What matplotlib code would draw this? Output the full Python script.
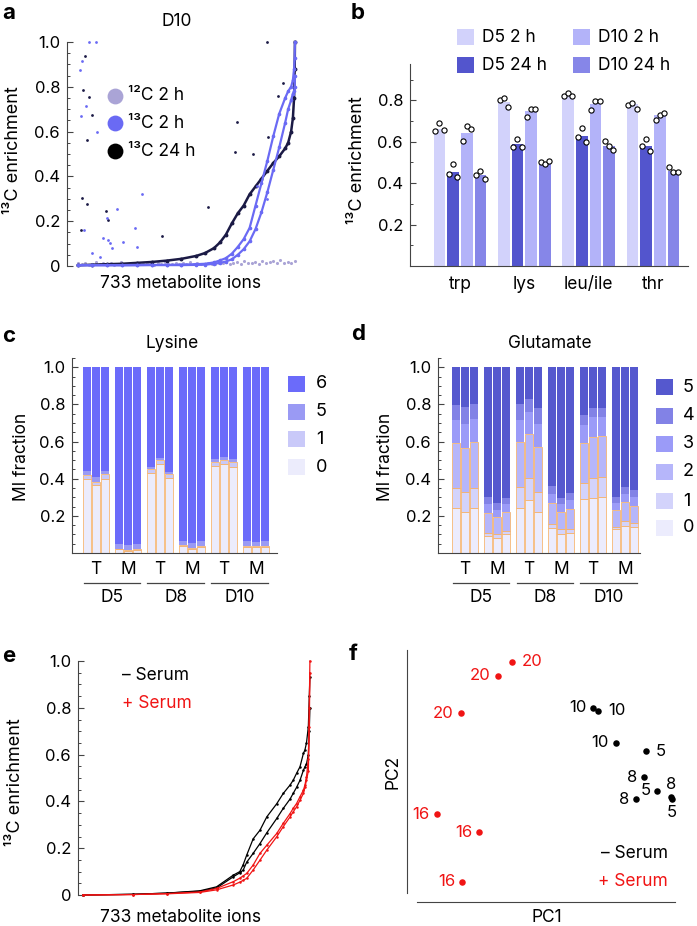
import numpy as np
import matplotlib
matplotlib.use('Agg')
import matplotlib.pyplot as plt
from matplotlib.patches import Rectangle

plt.rcParams['font.family'] = ['Inter', 'DejaVu Sans']
plt.rcParams['font.size'] = 12

# ---------------- data ----------------
# panel a: 13C enrichment of 733 metabolite ions (D10)
a_rank = [1, 50, 100, 150, 200, 250, 300, 350, 400, 430, 460, 480, 500, 520, 540,
          560, 580, 600, 620, 640, 660, 680, 700, 710, 720, 726, 730, 732, 733]
a_13c_24h = [0.003, 0.006, 0.008, 0.010, 0.014, 0.018, 0.024, 0.032, 0.045, 0.058, 0.080,
             0.105, 0.140, 0.190, 0.235, 0.270, 0.320, 0.355, 0.390, 0.425, 0.460, 0.490,
             0.525, 0.550, 0.600, 0.660, 0.750, 0.880, 1.000]
a_13c_2h_r1 = [0.004, 0.004, 0.004, 0.004, 0.005, 0.005, 0.005, 0.006, 0.008, 0.010, 0.016,
               0.025, 0.035, 0.055, 0.085, 0.120, 0.170, 0.270, 0.370, 0.470, 0.580, 0.680,
               0.750, 0.780, 0.800, 0.830, 0.880, 0.930, 1.000]
a_13c_2h_r2 = [0.003, 0.003, 0.003, 0.003, 0.003, 0.004, 0.004, 0.004, 0.005, 0.006, 0.010,
               0.014, 0.020, 0.030, 0.050, 0.075, 0.110, 0.165, 0.240, 0.330, 0.430, 0.530,
               0.640, 0.700, 0.740, 0.770, 0.780, 0.800, 0.850]
a_12c_2h = [0.012, 0.008, 0.015, 0.006, 0.010, 0.018, 0.007, 0.012, 0.009, 0.014, 0.006,
            0.011, 0.016, 0.008, 0.010, 0.013, 0.007, 0.012, 0.009, 0.015, 0.010, 0.006,
            0.013, 0.009, 0.017, 0.008, 0.011, 0.014, 0.007, 0.012, 0.010, 0.016, 0.009,
            0.013, 0.008, 0.011, 0.015, 0.010, 0.007, 0.014, 0.012, 0.018, 0.009, 0.013,
            0.016, 0.010, 0.022, 0.012, 0.015, 0.019, 0.011, 0.024, 0.014, 0.017, 0.021,
            0.012, 0.026, 0.015, 0.019, 0.013, 0.023]
a_out2h_rank = [8, 14, 39, 61, 28, 10, 64, 216, 132, 98, 193, 21, 86, 101, 109, 154, 199,
                115, 49, 75, 638, 604]
a_out2h_val = [0.876, 0.914, 1.0, 1.0, 0.715, 0.67, 0.60, 0.32, 0.253, 0.213, 0.171, 0.161,
               0.124, 0.116, 0.101, 0.109, 0.086, 0.079, 0.057, 0.042, 0.30, 0.355]
a_out24h_rank = [25, 17, 38, 47, 32, 14, 33, 96, 103, 10, 283, 441, 531, 536, 592, 638,
                 677, 692, 643]
a_out24h_val = [0.939, 0.784, 0.754, 0.675, 0.563, 0.303, 0.277, 0.247, 0.206, 0.161, 0.134,
                0.265, 0.511, 0.645, 0.50, 1.0, 0.757, 0.817, 0.578]

# panel b: 13C enrichment of amino acids
b_amino = ['trp', 'lys', 'leu/ile', 'thr']
b_cond = ['D5 2 h', 'D5 24 h', 'D10 2 h', 'D10 24 h']
b_d5_2h = [0.663, 0.792, 0.828, 0.784]
b_d5_24h = [0.454, 0.588, 0.628, 0.580]
b_d10_2h = [0.644, 0.747, 0.781, 0.728]
b_d10_24h = [0.438, 0.500, 0.580, 0.457]
b_d5_2h_pts = [[0.65, 0.69, 0.655], [0.803, 0.813, 0.768], [0.821, 0.833, 0.82], [0.779, 0.789, 0.76]]
b_d5_24h_pts = [[0.446, 0.491, 0.43], [0.573, 0.612, 0.573], [0.623, 0.665, 0.599], [0.58, 0.612, 0.554]]
b_d10_2h_pts = [[0.604, 0.676, 0.659], [0.72, 0.757, 0.758], [0.755, 0.797, 0.794], [0.707, 0.728, 0.739]]
b_d10_24h_pts = [[0.438, 0.459, 0.419], [0.502, 0.494, 0.506], [0.602, 0.578, 0.562], [0.478, 0.454, 0.454]]

# panels c, d: cumulative MI fractions, 18 bars (D5 T, D5 M, D8 T, D8 M, D10 T, D10 M; 3 reps each)
days = ['D5', 'D8', 'D10']
tissue = ['T', 'M']
lys_top0 = [0.40, 0.365, 0.40, 0.02, 0.013, 0.018, 0.429, 0.477, 0.402,
            0.038, 0.023, 0.035, 0.468, 0.477, 0.465, 0.035, 0.032, 0.035]
lys_top1 = [0.42, 0.384, 0.423, 0.024, 0.017, 0.022, 0.452, 0.50, 0.425,
            0.042, 0.027, 0.039, 0.491, 0.50, 0.49, 0.039, 0.036, 0.039]
lys_top5 = [0.44, 0.407, 0.443, 0.048, 0.045, 0.048, 0.465, 0.513, 0.438,
            0.065, 0.055, 0.062, 0.508, 0.515, 0.505, 0.063, 0.06, 0.062]
lys_top6 = [1.0] * 18

glu_top0 = [0.24, 0.222, 0.24, 0.091, 0.083, 0.10, 0.244, 0.285, 0.222,
            0.133, 0.102, 0.106, 0.289, 0.298, 0.303, 0.127, 0.145, 0.138]
glu_top1 = [0.352, 0.327, 0.352, 0.109, 0.10, 0.118, 0.353, 0.405, 0.33,
            0.154, 0.127, 0.127, 0.375, 0.402, 0.407, 0.142, 0.172, 0.16]
glu_top2 = [0.594, 0.567, 0.597, 0.213, 0.192, 0.219, 0.596, 0.639, 0.569,
            0.267, 0.222, 0.235, 0.591, 0.626, 0.63, 0.231, 0.273, 0.253]
glu_top3 = [0.716, 0.693, 0.72, 0.262, 0.231, 0.262, 0.716, 0.757, 0.694,
            0.318, 0.262, 0.285, 0.689, 0.73, 0.733, 0.267, 0.316, 0.303]
glu_top4 = [0.795, 0.787, 0.80, 0.303, 0.271, 0.298, 0.80, 0.829, 0.779,
            0.361, 0.294, 0.321, 0.743, 0.782, 0.782, 0.30, 0.354, 0.339]
glu_top5 = [1.0] * 18

# panel e: sorted 13C enrichment, - serum (black) and + serum (red), two replicates each
e_rank = [1, 163, 271, 378, 432, 486, 507, 518, 529, 550, 572, 594, 626, 647, 669, 679,
          690, 701, 712, 717, 722, 728, 731, 733]
e_minus_1 = [0, 0.003, 0.008, 0.018, 0.035, 0.085, 0.10, 0.13, 0.17, 0.24, 0.277, 0.334,
             0.39, 0.434, 0.47, 0.49, 0.52, 0.548, 0.605, 0.62, 0.65, 0.72, 0.85, 0.93]
e_minus_2 = [0, 0.003, 0.008, 0.016, 0.03, 0.078, 0.095, 0.107, 0.14, 0.178, 0.22, 0.266,
             0.327, 0.37, 0.41, 0.434, 0.46, 0.49, 0.533, 0.548, 0.56, 0.60, 0.70, 0.80]
e_plus_1 = [0, 0.002, 0.006, 0.013, 0.028, 0.057, 0.072, 0.082, 0.092, 0.128, 0.178, 0.213,
            0.263, 0.306, 0.348, 0.37, 0.391, 0.42, 0.448, 0.47, 0.505, 0.58, 0.80, 1.0]
e_plus_2 = [0, 0.002, 0.005, 0.011, 0.022, 0.043, 0.055, 0.063, 0.071, 0.107, 0.149, 0.192,
            0.249, 0.292, 0.334, 0.355, 0.377, 0.405, 0.434, 0.46, 0.491, 0.53, 0.72, 0.95]

# panel f: PCA scores (arbitrary units) and day labels
f_plus_pc1 = [-2.83, -4.23, -7.93, -10.33, -6.07, -7.77]
f_plus_pc2 = [13.83, 12.4, 8.67, -1.43, -3.23, -8.2]
f_plus_lab = ['20', '20', '20', '16', '16', '16']
f_plus_side = ['r', 'l', 'l', 'l', 'l', 'l']
f_minus_pc1 = [5.33, 5.83, 7.57, 10.57, 10.4, 11.73, 13.1, 13.2, 9.57]
f_minus_pc2 = [9.23, 8.93, 5.73, 4.87, 2.27, 0.93, 0.27, 0.13, 0.1]
f_minus_lab = ['10', '10', '10', '5', '8', '5', '8', '5', '8']
f_minus_side = ['l', 'r', 'l', 'r', 'l', 'l', 'a', 'b', 'l']

# ---------------- figure ----------------
W, H = 697, 926
fig = plt.figure(figsize=(W / 100, H / 100), dpi=100)
AX = '#444444'
LBL = 12.5


def px_axes(l, t, r, b):
    return fig.add_axes([l / W, 1 - b / H, (r - l) / W, (b - t) / H])


def ftext(x, y, s, **kw):
    return fig.text(x / W, 1 - y / H, s, **kw)


def style(ax, bottom=True, minor=0.05):
    for s in ['top', 'right']:
        ax.spines[s].set_visible(False)
    ax.spines['bottom'].set_visible(bottom)
    for s in ['left', 'bottom']:
        ax.spines[s].set_color(AX)
        ax.spines[s].set_linewidth(0.8)
    ax.yaxis.set_minor_locator(plt.MultipleLocator(minor))
    ax.tick_params(axis='y', which='major', direction='in', length=4.5, width=0.8,
                   color=AX, labelsize=12, pad=5)
    ax.tick_params(axis='y', which='minor', direction='in', length=2.5, width=0.7, color=AX)
    ax.set_xticks([])


def fig_patch(x0, yc, color, w=17, h=16):
    fig.add_artist(Rectangle((x0 / W, 1 - (yc + h / 2) / H), w / W, h / H,
                             transform=fig.transFigure, facecolor=color, edgecolor='none'))


# panel letters
for lab, x, y in [('a', 2, 13), ('b', 351, 13), ('c', 2, 336), ('d', 351, 334),
                  ('e', 2, 656), ('f', 349, 654)]:
    ftext(x, y, lab, fontsize=16, fontweight='bold', va='center', ha='left')

# ---- a ----
c12, c2h, c24 = '#aaa4d6', '#6a6af4', '#1b1a45'
ax = px_axes(67, 42, 300, 266)
style(ax, bottom=False)
ax.set_xlim(-36, 750)
ax.set_ylim(0, 1)
ax.set_yticks([0, 0.2, 0.4, 0.6, 0.8, 1.0], ['0', '0.2', '0.4', '0.6', '0.8', '1.0'])
a12_rank = np.linspace(1, 733, len(a_12c_2h))
ax.scatter(a12_rank, a_12c_2h, s=5, color=c12, lw=0, clip_on=False, zorder=2)
ax.plot(a_rank, a_13c_24h, color=c24, lw=1.8, marker='o', ms=1.8, clip_on=False, zorder=3)
ax.scatter(a_out24h_rank, a_out24h_val, s=4, color=c24, lw=0, clip_on=False, zorder=3)
ax.plot(a_rank, a_13c_2h_r2, color=c2h, lw=1.6, marker='o', ms=1.6, clip_on=False, zorder=4)
ax.plot(a_rank, a_13c_2h_r1, color=c2h, lw=1.6, marker='o', ms=1.6, clip_on=False, zorder=4)
ax.scatter(a_out2h_rank, a_out2h_val, s=4, color=c2h, lw=0, clip_on=False, zorder=4)
for lab, col, yy in [('¹²C 2 h', c12, 96), ('¹³C 2 h', c2h, 123), ('¹³C 24 h', 'black', 151)]:
    ax.scatter([(115 - 67) / 233], [(266 - yy) / 224], s=130, color=col, lw=0,
               transform=ax.transAxes, clip_on=False)
    ftext(128, yy, lab, fontsize=12.5, va='center', ha='left')
ftext(177, 21, 'D10', ha='center', va='center', fontsize=LBL)
ftext(180, 283, '733 metabolite ions', ha='center', va='center', fontsize=LBL)
ftext(14, 150, '¹³C enrichment', rotation=90, ha='center', va='center', fontsize=13)

# ---- b ----
b_colors = ['#d2d2fb', '#5355cd', '#b3b3f9', '#8686e8']
ax = px_axes(410, 64, 688, 266)
style(ax, bottom=True, minor=0.1)
ax.set_ylim(0, 0.975)
ax.set_xlim(-2.15, 18.16)
ax.set_yticks([0.2, 0.4, 0.6, 0.8], ['0.2', '0.4', '0.6', '0.8'])
gstep = 4.7
means = [b_d5_2h, b_d5_24h, b_d10_2h, b_d10_24h]
pts = [b_d5_2h_pts, b_d5_24h_pts, b_d10_2h_pts, b_d10_24h_pts]
for i in range(4):
    xs = np.arange(4) * gstep + i
    ax.bar(xs, means[i], width=0.84, color=b_colors[i], zorder=1)
    for g in range(4):
        ax.scatter(xs[g] + np.array([-0.3, 0.0, 0.3]), pts[i][g], s=14, facecolor='white',
                   edgecolor='black', lw=0.8, zorder=3, clip_on=False)
ax.set_xticks(np.arange(4) * gstep + 1.5, b_amino)
ax.tick_params(axis='x', length=0, pad=7, labelsize=12.5)
for i, (x0, yc) in enumerate([(457, 37), (457, 65), (573, 37), (573, 65)]):
    fig_patch(x0, yc, b_colors[i])
    ftext(x0 + 25, yc, b_cond[i], fontsize=12.5, va='center', ha='left')
ftext(357, 160, '¹³C enrichment', rotation=90, ha='center', va='center', fontsize=13)

# ---- c, d ----
orange = '#f7b267'


def stacked(ax, tops, colors, n_orange):
    gs = 3.72
    xs = np.array([g * gs + r for g in range(6) for r in range(3)])
    prev = np.zeros(18)
    for k, top in enumerate(tops):
        top = np.array(top)
        if k < n_orange:
            ax.bar(xs, top - prev, bottom=prev, width=0.93, color=colors[k],
                   edgecolor=orange, lw=0.55, zorder=2)
        else:
            ax.bar(xs, top - prev, bottom=prev, width=0.93, color=colors[k], lw=0, zorder=1)
        prev = top
    tr = ax.get_xaxis_transform()
    for d in range(3):
        gT, gM = 2 * d, 2 * d + 1
        ax.text(gT * gs + 1, -0.087, 'T', transform=tr, ha='center', va='center', fontsize=12.5)
        ax.text(gM * gs + 1, -0.087, 'M', transform=tr, ha='center', va='center', fontsize=12.5)
        ax.plot([gT * gs - 0.45, gM * gs + 2.45], [-0.154, -0.154], transform=tr,
                color=AX, lw=0.9, clip_on=False)
        ax.text((gT * gs + gM * gs + 2) / 2, -0.226, days[d], transform=tr,
                ha='center', va='center', fontsize=12.5)


lys_colors = ['#ececfc', '#c9c9f9', '#9a9af4', '#6b6bfa']
ax = px_axes(72, 358, 277, 553)
style(ax)
ax.set_ylim(0, 1.05)
ax.set_xlim(-1.79, 22.05)
ax.set_yticks([0.2, 0.4, 0.6, 0.8, 1.0], ['0.2', '0.4', '0.6', '0.8', '1.0'])
stacked(ax, [lys_top0, lys_top1, lys_top5, lys_top6], lys_colors, 2)
for lab, col, yc in zip(['6', '5', '1', '0'], lys_colors[::-1], [384, 412, 439, 467]):
    fig_patch(288, yc, col)
    ftext(316, yc, lab, fontsize=13, va='center', ha='left')
ftext(172, 343, 'Lysine', ha='center', va='center', fontsize=LBL)
ftext(22, 457, 'MI fraction', rotation=90, ha='center', va='center', fontsize=LBL)

glu_colors = ['#ececfd', '#d3d3fb', '#b6b6fa', '#9b9bf8', '#8282e6', '#5558ce']
ax = px_axes(438, 358, 640, 553)
style(ax)
ax.set_ylim(0, 1.05)
ax.set_xlim(-2.14, 21.35)
ax.set_yticks([0.2, 0.4, 0.6, 0.8, 1.0], ['0.2', '0.4', '0.6', '0.8', '1.0'])
stacked(ax, [glu_top0, glu_top1, glu_top2, glu_top3, glu_top4, glu_top5], glu_colors, 3)
for lab, col, yc in zip(['5', '4', '3', '2', '1', '0'], glu_colors[::-1],
                        [387, 416, 444, 472, 501, 528]):
    fig_patch(656, yc, col)
    ftext(683, yc, lab, fontsize=13, va='center', ha='left')
ftext(550, 343, 'Glutamate', ha='center', va='center', fontsize=LBL)
ftext(385, 457, 'MI fraction', rotation=90, ha='center', va='center', fontsize=LBL)

# ---- e ----
red = '#f01414'
ax = px_axes(78, 661, 313, 895)
style(ax, bottom=False)
ax.set_xlim(-15, 743)
ax.set_ylim(0, 1)
ax.set_yticks([0, 0.2, 0.4, 0.6, 0.8, 1.0], ['0', '0.2', '0.4', '0.6', '0.8', '1.0'])
for ys, col in [(e_minus_1, 'black'), (e_minus_2, 'black'), (e_plus_1, red), (e_plus_2, red)]:
    ax.plot(e_rank, ys, color=col, lw=0.9, marker='o', ms=0.8, clip_on=False)
ftext(122, 675, '– Serum', fontsize=12.5, va='center', ha='left', color='black')
ftext(122, 704, '+ Serum', fontsize=12.5, va='center', ha='left', color=red)
ftext(180, 918, '733 metabolite ions', ha='center', va='center', fontsize=LBL)
ftext(16, 782, '¹³C enrichment', rotation=90, ha='center', va='center', fontsize=13)

# ---- f ----
ax = px_axes(407, 650, 675, 902)
for s in ax.spines.values():
    s.set_visible(False)
ax.set_xticks([])
ax.set_yticks([])
ax.set_xlim(-13.3, 13.5)
ax.set_ylim(-10.2, 15.0)
ax.plot([0, 0], [0.036, 1], transform=ax.transAxes, color=AX, lw=0.8, clip_on=False)
ax.plot([0.037, 1], [0, 0], transform=ax.transAxes, color=AX, lw=0.8, clip_on=False)
offs = {'r': ((7, 0), 'left', 'center'), 'l': ((-5, 0), 'right', 'center'),
        'a': ((0, 9), 'center', 'center'), 'b': ((0, -10), 'center', 'center')}
for xs, ys, labs, sides, col in [(f_plus_pc1, f_plus_pc2, f_plus_lab, f_plus_side, red),
                                 (f_minus_pc1, f_minus_pc2, f_minus_lab, f_minus_side, 'black')]:
    ax.scatter(xs, ys, s=22, color=col, lw=0, zorder=3, clip_on=False)
    for x, y, lab, sd in zip(xs, ys, labs, sides):
        off, ha, va = offs[sd]
        ax.annotate(lab, (x, y), xytext=off, textcoords='offset points', ha=ha, va=va,
                    color=col, fontsize=12)
ftext(668, 853, '– Serum', fontsize=12.5, va='center', ha='right', color='black')
ftext(668, 882, '+ Serum', fontsize=12.5, va='center', ha='right', color=red)
ftext(547, 918, 'PC1', ha='center', va='center', fontsize=LBL)
ftext(393, 772, 'PC2', rotation=90, ha='center', va='center', fontsize=LBL)

fig.savefig('out.png', dpi=100)
